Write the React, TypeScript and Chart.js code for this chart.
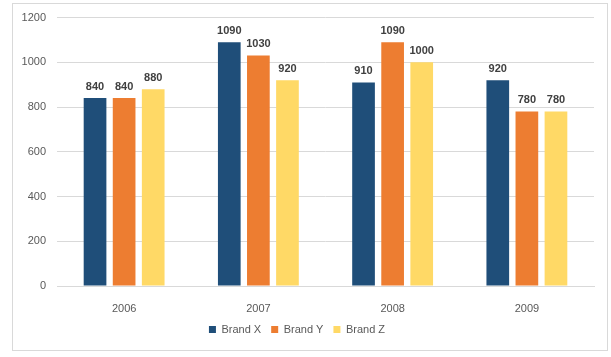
import React, { useEffect, useRef } from "react";
import { Chart, registerables } from "chart.js";

Chart.register(...registerables);

const categories = ["2006", "2007", "2008", "2009"];
const brandX = [840, 1090, 910, 920];
const brandY = [840, 1030, 1090, 780];
const brandZ = [880, 920, 1000, 780];
const seriesNames = ["Brand X", "Brand Y", "Brand Z"];
const seriesColors = ["#1f4e79", "#ed7d31", "#ffd966"];

const FONT = "'Liberation Sans', Arial, sans-serif";

const labelPlugin = {
  id: "barLabels",
  beforeDraw(chart: any) {
    const ctx = chart.ctx;
    ctx.save();
    ctx.fillStyle = "#ffffff";
    ctx.fillRect(0, 0, chart.width, chart.height);
    ctx.strokeStyle = "#d9d9d9";
    ctx.lineWidth = 1;
    ctx.strokeRect(12.5, 3.5, 595, 347);
    ctx.restore();
  },
  afterDatasetsDraw(chart: any) {
    const ctx = chart.ctx;
    ctx.save();
    ctx.font = `bold 11px ${FONT}`;
    ctx.fillStyle = "#404040";
    ctx.textAlign = "center";
    ctx.textBaseline = "bottom";
    chart.data.datasets.forEach((ds: any, i: number) => {
      const meta = chart.getDatasetMeta(i);
      meta.data.forEach((bar: any, j: number) => {
        ctx.fillText(String(ds.data[j]), bar.x, bar.y - 6);
      });
    });
    ctx.restore();
  },
};

export default function App() {
  const ref = useRef<HTMLCanvasElement>(null);
  useEffect(() => {
    if (!ref.current) return;
    const chart = new Chart(ref.current, {
      type: "bar",
      data: {
        labels: categories,
        datasets: [brandX, brandY, brandZ].map((d, i) => ({
          label: seriesNames[i],
          data: d,
          backgroundColor: seriesColors[i],
          borderWidth: 0,
          categoryPercentage: 0.65,
          barPercentage: 0.78,
        })),
      },
      options: {
        animation: false,
        responsive: false,
        maintainAspectRatio: false,
        layout: { padding: { left: 0, right: 17, top: 17, bottom: 12 } },
        plugins: {
          legend: {
            position: "bottom",
            labels: {
              boxWidth: 7,
              boxHeight: 7,
              padding: 10,
              color: "#595959",
              font: { family: FONT, size: 11 },
            },
          },
          tooltip: { enabled: false },
        },
        scales: {
          x: {
            grid: { display: false },
            border: { color: "#d9d9d9" },
            ticks: { color: "#595959", font: { family: FONT, size: 11 }, padding: 8 },
            afterFit(scale: any) {
              scale.height = 28;
            },
          },
          y: {
            min: 0,
            max: 1200,
            ticks: {
              stepSize: 200,
              color: "#595959",
              font: { family: FONT, size: 11 },
              padding: 11,
              callback: (v: any) => String(v),
            },
            grid: { color: "#d9d9d9", drawTicks: false },
            border: { display: false },
            afterFit(scale: any) {
              scale.width = 57;
            },
          },
        },
      },
      plugins: [labelPlugin],
    } as any);
    return () => chart.destroy();
  }, []);
  return (
    <div style={{ position: "absolute", left: 0, top: 0, width: 611, height: 357 }}>
      <canvas ref={ref} width={611} height={357} style={{ width: 611, height: 357 }} />
    </div>
  );
}
